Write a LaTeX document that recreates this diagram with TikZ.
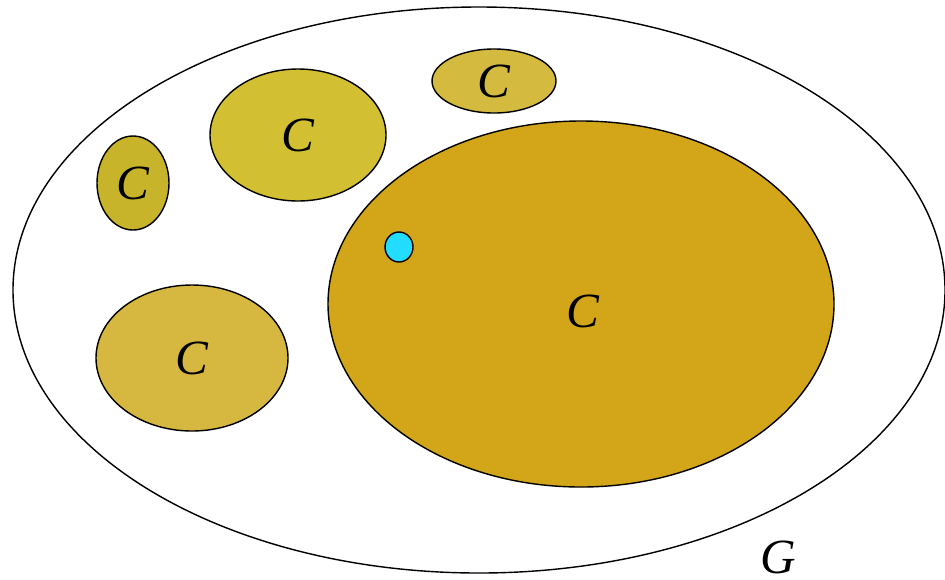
\documentclass[tikz,border=0pt]{standalone}
\usepackage{fontspec}
\setmainfont{Liberation Serif}
\usepackage{tikz}
\usetikzlibrary{shapes.geometric}

\definecolor{olivedark}{HTML}{C8B42A}
\definecolor{olivelight}{HTML}{D2C032}
\definecolor{olivetop}{HTML}{D4BA3E}
\definecolor{olivelow}{HTML}{D6B840}
\definecolor{ochre}{HTML}{D3A519}
\definecolor{dotcyan}{HTML}{22DDFF}

\begin{document}
\begin{tikzpicture}[
      x=0.02cm, y=-0.02cm, % one unit per pixel, y downwards
      font=\fontsize{28}{32}\selectfont\itshape,
      comp/.style={ellipse, draw, line width=0.8pt, inner sep=0pt},
    ]
    \useasboundingbox (0,0) rectangle (945,579);

    % ---- the whole graph ------------------------------------------------
    \node[comp, fill=white, minimum width=932*0.02cm, minimum height=566*0.02cm]
      (graph) at (479,290) {};
    \node[inner sep=0pt] (glabel) at (778,557) {G};

    % ---- components -----------------------------------------------------
    \node[comp, fill=olivedark,  minimum width=72*0.02cm,  minimum height=94*0.02cm]
      (c1) at (133,183) {C};
    \node[comp, fill=olivelight, minimum width=176*0.02cm, minimum height=132*0.02cm]
      (c2) at (298,135) {C};
    \node[comp, fill=olivetop,   minimum width=124*0.02cm, minimum height=64*0.02cm]
      (c3) at (494,81) {C};
    \node[comp, fill=olivelow,   minimum width=192*0.02cm, minimum height=146*0.02cm]
      (c4) at (192,358) {C};
    \node[comp, fill=ochre,      minimum width=506*0.02cm, minimum height=366*0.02cm]
      (c5) at (581,304) {};
    \node (c5label) at (583,311) {C};

    % ---- the vertex -----------------------------------------------------
    \node[comp, fill=dotcyan, minimum width=28*0.02cm, minimum height=30*0.02cm]
      (v) at (399,247) {};
  \end{tikzpicture}
\end{document}
